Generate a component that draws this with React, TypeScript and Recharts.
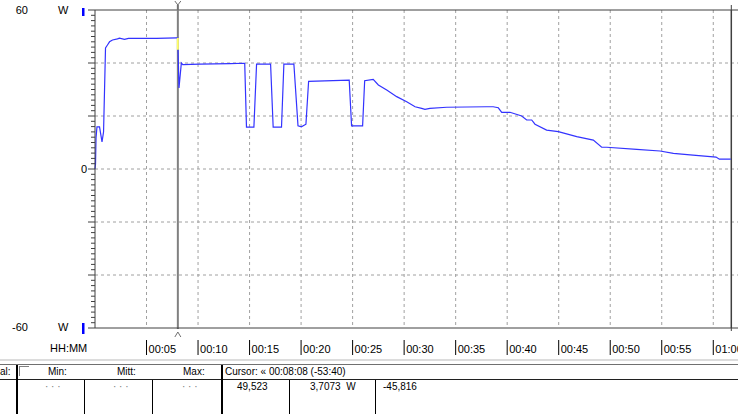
import React from "react";
import { LineChart, Line, XAxis, YAxis, CartesianGrid, ReferenceLine } from "recharts";

// trace samples (minutes since start / watts)
const minutes = [
  0, 0.05, 0.1, 0.19, 0.44, 0.68, 0.83, 1.02, 1.21, 1.41, 1.7, 2.18, 2.38, 2.86, 3.25, 4.32, 5.97, 7.91,
  8.04, 8.06, 8.15, 8.38, 8.52, 10.17, 13.1, 14.53, 14.7, 15.42, 15.68, 17.04, 17.29, 18.1, 18.33, 19.3,
  19.7, 20.03, 20.47, 20.73, 24.67, 24.9, 25.97, 26.17, 27.0, 27.5, 28.31, 29.28, 30.25, 31.06, 31.7,
  32.02, 32.5, 34.13, 38.0, 38.64, 39.14, 39.47, 40.27, 41.41, 41.89, 42.38, 42.7, 43.83, 44.96, 46.75,
  48.36, 49.17, 49.66, 52.57, 54.83, 56.13, 57.75, 60.0, 60.27, 60.59, 61.7,
];
const watts = [
  0, 1.9, 11.7, 15.9, 15.9, 10.2, 14, 45.7, 46.8, 48.0, 48.7, 49.1, 49.4, 48.9, 49.3, 49.3, 49.3, 49.5,
  49.5, 45, 30.6, 40.0, 39.4, 39.6, 39.8, 39.9, 15.8, 15.8, 39.6, 39.6, 15.8, 15.8, 39.6, 39.6,
  16.3, 15.9, 16.9, 33.1, 33.5, 16.3, 16.3, 33.3, 33.8, 31.7, 29.8, 27.3, 25.4, 23.5, 22.9,
  22.5, 22.9, 23.3, 23.5, 23.5, 23.1, 21.4, 21.4, 20.0, 18.5, 18.5, 16.9, 14.7, 14.1, 12.2,
  10.9, 8.2, 8.2, 7.4, 6.8, 5.9, 5.3, 4.6, 4.5, 3.7, 3.7,
];

const timeTicks = [5, 10, 15, 20, 25, 30, 35, 40, 45, 50, 55, 60];
const timeLabels = ["00:05", "00:10", "00:15", "00:20", "00:25", "00:30", "00:35", "00:40", "00:45", "00:50", "00:55", "01:00"];
const wattTicks = [
  -60, -58, -56, -54, -52, -50, -48, -46, -44, -42, -40, -38, -36, -34, -32, -30, -28, -26, -24, -22, -20,
  -18, -16, -14, -12, -10, -8, -6, -4, -2, 0, 2, 4, 6, 8, 10, 12, 14, 16, 18, 20, 22, 24, 26, 28, 30, 32,
  34, 36, 38, 40, 42, 44, 46, 48, 50, 52, 54, 56, 58, 60,
];
const gridWatts = [-40, -20, 0, 20, 40];

const cursorTime = 8.04;
const cursorHighlight = [49.5, 45];
const endTime = 61.75;
const timeMax = 62.4;

const data = minutes.map((t, i) => ({ t, w: watts[i] }));

const FONT = "'Liberation Sans', Arial, sans-serif";

function YTick(props: any) {
  const { x, y, payload } = props;
  const v = payload.value;
  const major = v % 20 === 0;
  return (
    <g fontFamily={FONT} fontSize={11} fill="#000">
      <line x1={x - (major ? 7 : 4)} x2={x} y1={y} y2={y} stroke="#404040" />
      {v === 0 && (
        <text x={x - 8} y={y + 4} textAnchor="end">0</text>
      )}
      {(v === 60 || v === -60) && (
        <>
          <text x={x - 67} y={y + (v === 60 ? 4 : 3)} textAnchor="end">{v}</text>
          <text x={x - 37} y={y + (v === 60 ? 4 : 3)}>W</text>
          <rect x={x - 13} y={v === 60 ? y - 2 : y - 5} width={2.5} height={v === 60 ? 8 : 11} fill="#0000ff" />
        </>
      )}
    </g>
  );
}

function XTick(props: any) {
  const { x, y, payload } = props;
  const label = timeLabels[timeTicks.indexOf(payload.value)];
  return (
    <g>
      <line x1={x} x2={x} y1={y + 12} y2={y + 27} stroke="#000" />
      <text x={x + 2} y={y + 25} fontFamily={FONT} fontSize={11} fill="#000">{label}</text>
    </g>
  );
}

function CursorMarks(props: any) {
  const vb = props.viewBox;
  if (!vb) return null;
  const x = vb.x;
  const bottom = vb.y + vb.height;
  return (
    <g stroke="#707070" fill="none">
      <line x1={x} x2={x} y1={5} y2={vb.y} strokeWidth={2} />
      <polyline points={`${x - 3},1 ${x},5 ${x + 3},1`} strokeWidth={1} />
      <polyline points={`${x - 3},337 ${x},332 ${x + 3},337`} strokeWidth={1} />
      <line x1={x} x2={x} y1={bottom} y2={bottom + 1} strokeWidth={2} />
    </g>
  );
}

function EndMarks(props: any) {
  const vb = props.viewBox;
  if (!vb) return null;
  return (
    <g stroke="#404040">
      <line x1={vb.x} x2={vb.x} y1={5} y2={vb.y} />
      <line x1={vb.x} x2={vb.x} y1={vb.y + vb.height} y2={vb.y + vb.height + 3} />
    </g>
  );
}

const abs = (left: number, top: number, extra: React.CSSProperties = {}): React.CSSProperties => ({
  position: "absolute",
  left,
  top,
  lineHeight: "12px",
  whiteSpace: "pre",
  ...extra,
});

export default function App() {
  return (
    <div
      style={{
        position: "absolute",
        left: 0,
        top: 0,
        width: 738,
        height: 414,
        overflow: "hidden",
        background: "#fff",
        fontFamily: FONT,
        color: "#000",
      }}
    >
      <LineChart width={738} height={362} data={data} margin={{ top: 10, right: 0, bottom: 0, left: 0 }}>
        <CartesianGrid
          stroke="#a0a0a0"
          strokeDasharray="3 3"
          horizontalValues={gridWatts}
          verticalValues={timeTicks}
        />
        <XAxis
          dataKey="t"
          type="number"
          domain={[0, timeMax]}
          ticks={timeTicks}
          interval={0}
          tick={XTick}
          tickSize={0}
          tickMargin={0}
          height={34}
          axisLine={{ stroke: "#404040" }}
        />
        <YAxis
          type="number"
          domain={[-60, 60]}
          ticks={wattTicks}
          interval={0}
          tick={YTick}
          tickSize={0}
          tickMargin={0}
          width={95}
          axisLine={{ stroke: "#404040" }}
        />
        <ReferenceLine y={60} stroke="#404040" />
        <ReferenceLine x={endTime} stroke="#404040" strokeWidth={1.5} label={<EndMarks />} />
        <ReferenceLine x={cursorTime} stroke="#808080" strokeWidth={2} label={<CursorMarks />} />
        <Line
          dataKey="w"
          type="linear"
          stroke="#3333ff"
          strokeWidth={1.2}
          dot={false}
          isAnimationActive={false}
        />
        <ReferenceLine
          segment={[
            { x: cursorTime, y: cursorHighlight[0] },
            { x: cursorTime, y: cursorHighlight[1] },
          ]}
          stroke="#ffff66"
          strokeWidth={2}
        />
      </LineChart>

      <div style={abs(50, 342, { fontSize: 11 })}>HH:MM</div>

      {/* status table under the chart */}
      <div style={abs(0, 359, { width: 738, height: 2, background: "#dcdcdc" })} />
      <div style={abs(0, 364, { width: 738, height: 1, background: "#707070" })} />
      <div style={abs(0, 379, { width: 738, height: 1, background: "#202020" })} />
      <div style={abs(16, 365, { width: 2, height: 49, background: "#000" })} />
      <div style={abs(221, 365, { width: 2, height: 49, background: "#000" })} />
      <div style={abs(84, 380, { width: 1, height: 34, background: "#000" })} />
      <div style={abs(152, 380, { width: 1, height: 34, background: "#000" })} />
      <div style={abs(289, 380, { width: 1, height: 34, background: "#000" })} />
      <div style={abs(375, 380, { width: 1, height: 34, background: "#000" })} />
      <div
        style={abs(19, 366, {
          width: 10,
          height: 10,
          borderTop: "1px solid #808080",
          borderLeft: "1px solid #808080",
          boxSizing: "border-box",
        })}
      />

      <div style={{ fontSize: 10 }}>
        <div style={abs(0, 366)}>al:</div>
        <div style={abs(48, 366)}>Min:</div>
        <div style={abs(117, 366)}>Mitt:</div>
        <div style={abs(183, 366)}>Max:</div>
        <div style={abs(225, 366)}>Cursor: « 00:08:08 (-53:40)</div>
        <div style={abs(45, 381, { color: "#777" })}>· · ·</div>
        <div style={abs(113, 381, { color: "#777" })}>· · ·</div>
        <div style={abs(182, 381, { color: "#777" })}>· · ·</div>
        <div style={abs(237, 381)}>49,523</div>
        <div style={abs(310, 381)}>3,7073  W</div>
        <div style={abs(383, 381)}>-45,816</div>
      </div>
    </div>
  );
}
